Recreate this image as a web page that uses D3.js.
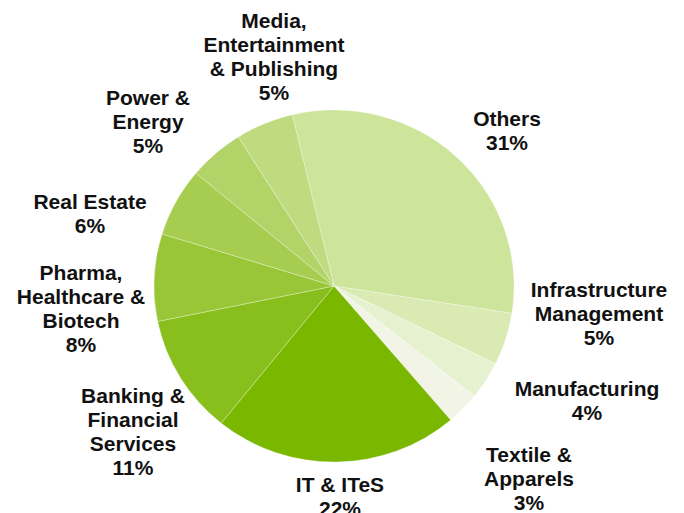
<!DOCTYPE html>
<html>
<head>
<meta charset="utf-8">
<script src="https://cdn.jsdelivr.net/npm/d3@7"></script>
<style>
  body { margin: 0; background: #fff; }
  svg text { font-family: "Liberation Sans", Arial, sans-serif; font-weight: bold; font-size: 21px; fill: #111; }
</style>
</head>
<body>
<svg id="chart" width="684" height="513"></svg>
<script>
// sectors, clockwise from "Others"
var categories = ['Others', 'Infrastructure|Management', 'Manufacturing', 'Textile &|Apparels',
  'IT & ITeS', 'Banking &|Financial|Services', 'Pharma,|Healthcare &|Biotech',
  'Real Estate', 'Power &|Energy', 'Media,|Entertainment|& Publishing'];
var shares = [31.2, 4.8, 3.5, 3.0, 22.0, 11.0, 8.0, 6.3, 5.0, 5.2];
var colors = ['#cde49b', '#d9eab3', '#e6f1d0', '#f2f5e6', '#7ab800',
  '#89bf1c', '#99c636', '#a6cd50', '#b2d367', '#bfdb80'];

// where each label block sits (centre x, first baseline)
var labelPos = [[507, 126], [599, 297], [587, 396], [529, 462], [340, 492],
  [133, 403], [81, 280], [90, 209], [148, 105], [274, 28]];

var svg = d3.select('#chart');
var cx = 334, cy = 286, r = 180;

var start = -13.4 * Math.PI / 180;
var pie = d3.pie().sort(null).value(function(d){ return d; })
  .startAngle(start).endAngle(start + 2 * Math.PI);
var arc = d3.arc().innerRadius(0).outerRadius(r);

var g = svg.append('g').attr('transform', 'translate(' + cx + ',' + cy + ') scale(1,0.978)');

g.selectAll('path')
  .data(pie(shares))
  .enter()
  .append('path')
  .attr('d', arc)
  .attr('fill', function(d, i){ return colors[i]; })
  .attr('stroke', '#ffffff')
  .attr('stroke-opacity', 0.5)
  .attr('stroke-width', 0.6);

var lineH = 24;
var labels = svg.selectAll('text.lbl')
  .data(categories)
  .enter()
  .append('text')
  .attr('class', 'lbl')
  .attr('text-anchor', 'middle')
  .attr('x', function(d, i){ return labelPos[i][0]; })
  .attr('y', function(d, i){ return labelPos[i][1]; });

labels.each(function(d, i){
  var lines = d.split('|').concat([Math.round(shares[i]) + '%']);
  var t = d3.select(this);
  lines.forEach(function(s, k){
    t.append('tspan')
      .attr('x', labelPos[i][0])
      .attr('dy', k == 0 ? 0 : lineH)
      .text(s);
  });
});
</script>
</body>
</html>
